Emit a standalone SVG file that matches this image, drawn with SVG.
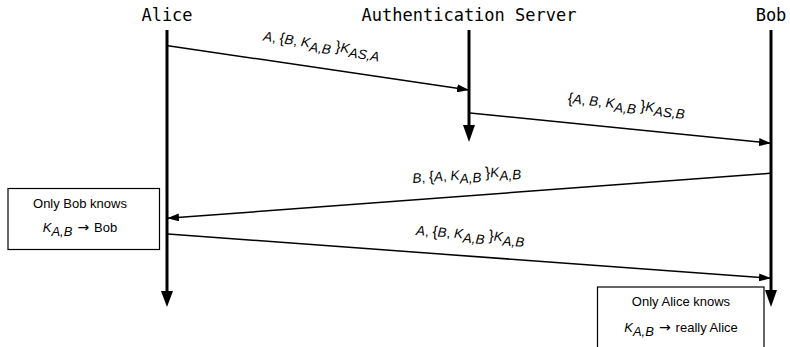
<svg xmlns="http://www.w3.org/2000/svg" width="790" height="347" viewBox="0 0 790 347">
<defs>
<style>
.title{font-family:"DejaVu Sans Mono",monospace;font-size:17px;fill:#000;text-anchor:middle}
.lbl{font-family:"Liberation Sans",Arial,sans-serif;font-size:13.5px;fill:#000;text-anchor:middle}
.box{font-family:"Liberation Sans",Arial,sans-serif;font-size:13px;fill:#000;text-anchor:middle}
.i{font-style:italic}
.br{font-size:15px}
.arr{font-family:"DejaVu Sans",sans-serif;font-size:14px}
.life{stroke:#000;stroke-width:3;fill:none}
.msg{stroke:#000;stroke-width:1.5;fill:none;marker-end:url(#ah)}
.note{fill:#fff;stroke:#000;stroke-width:1.2}
</style>
<marker id="ah" markerUnits="userSpaceOnUse" markerWidth="12" markerHeight="8" refX="12" refY="4" orient="auto" viewBox="0 0 12 8">
<path d="M0,0 L12,4 L0,8 z" fill="#000"/>
</marker>
</defs>
<g id="alice">
<text class="title" x="167" y="21">Alice</text>
<line class="life" x1="167" y1="30" x2="167" y2="292"/>
<polygon points="161,291 173,291 167,307" fill="#000"/>
</g>
<g id="server">
<text class="title" x="469" y="21">Authentication Server</text>
<line class="life" x1="469" y1="30" x2="469" y2="126"/>
<polygon points="463,125 475,125 469,142" fill="#000"/>
</g>
<g id="bob">
<text class="title" x="771" y="21">Bob</text>
<line class="life" x1="771" y1="30" x2="771" y2="291"/>
<polygon points="765,290 777,290 771,307" fill="#000"/>
</g>
<g id="connectors">
<line class="msg" x1="168" y1="45.7" x2="469" y2="90"/>
<line class="msg" x1="470" y1="113" x2="771" y2="143.3"/>
<line class="msg" x1="770" y1="173.3" x2="167" y2="218.3"/>
<line class="msg" x1="168" y1="234" x2="771" y2="278.3"/>
<text class="lbl" transform="translate(321,49) rotate(8.35)"><tspan class="i">A</tspan>, <tspan class="br">{</tspan><tspan class="i">B</tspan>, <tspan class="i">K</tspan><tspan class="i" dy="4">A,B</tspan><tspan class="br" dy="-4"> }</tspan><tspan class="i">K</tspan><tspan class="i" dy="4">AS,A</tspan></text>
<text class="lbl" transform="translate(626,109) rotate(5.73)"><tspan class="br">{</tspan><tspan class="i">A</tspan>, <tspan class="i">B</tspan>, <tspan class="i">K</tspan><tspan class="i" dy="4">A,B</tspan><tspan class="br" dy="-4"> }</tspan><tspan class="i">K</tspan><tspan class="i" dy="4">AS,B</tspan></text>
<text class="lbl" transform="translate(467,179) rotate(-4.26)"><tspan class="i">B</tspan>, <tspan class="br">{</tspan><tspan class="i">A</tspan>, <tspan class="i">K</tspan><tspan class="i" dy="4">A,B</tspan><tspan class="br" dy="-4"> }</tspan><tspan class="i">K</tspan><tspan class="i" dy="4">A,B</tspan></text>
<text class="lbl" transform="translate(470,239) rotate(4.2)"><tspan class="i">A</tspan>, <tspan class="br">{</tspan><tspan class="i">B</tspan>, <tspan class="i">K</tspan><tspan class="i" dy="4">A,B</tspan><tspan class="br" dy="-4"> }</tspan><tspan class="i">K</tspan><tspan class="i" dy="4">A,B</tspan></text>
</g>
<g id="note-bob">
<rect class="note" x="8" y="188.5" width="151.5" height="61"/>
<text class="box" x="80" y="208">Only Bob knows</text>
<text class="box" x="80" y="232"><tspan class="i">K</tspan><tspan class="i" dy="4">A,B</tspan><tspan dy="-4" dx="5" class="arr">→</tspan><tspan dx="5">Bob</tspan></text>
</g>
<g id="note-alice">
<rect class="note" x="597.5" y="287" width="166.5" height="70"/>
<text class="box" x="681" y="306">Only Alice knows</text>
<text class="box" x="681" y="332"><tspan class="i">K</tspan><tspan class="i" dy="4">A,B</tspan><tspan dy="-4" dx="5" class="arr">→</tspan><tspan dx="5">really Alice</tspan></text>
</g>
</svg>
